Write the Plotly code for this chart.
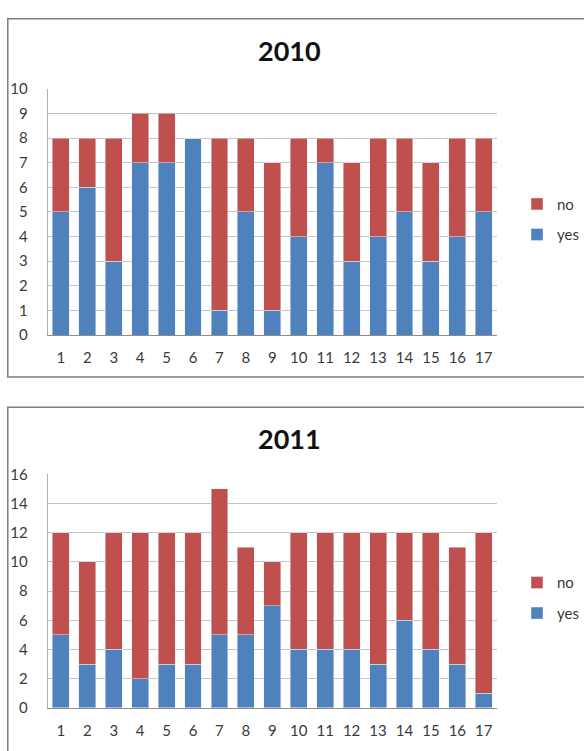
import plotly.graph_objects as go

# Survey answers per participant, two years
participants = [str(i) for i in range(1, 18)]

yes_2010 = [5, 6, 3, 7, 7, 8, 1, 5, 1, 4, 7, 3, 4, 5, 3, 4, 5]
no_2010 = [3, 2, 5, 2, 2, 0, 7, 3, 6, 4, 1, 4, 4, 3, 4, 4, 3]

yes_2011 = [5, 3, 4, 2, 3, 3, 5, 5, 7, 4, 4, 4, 3, 6, 4, 3, 1]
no_2011 = [7, 7, 8, 10, 9, 9, 10, 6, 3, 8, 8, 8, 9, 6, 8, 8, 11]

BLUE = "#4F81BD"
RED = "#C0504D"
FONT = "Lato"
W, H = 584, 751


def py(px):
    """Convert a pixel row (from top) to paper y."""
    return 1 - px / H


def pxx(px):
    return px / W


fig = go.Figure()

# 2010 chart (axes x, y) with legend; "no" listed first in the legend
fig.add_trace(go.Bar(x=participants, y=yes_2010, name="yes", marker_color=BLUE,
                     xaxis="x", yaxis="y", legend="legend", legendgroup="a",
                     legendrank=2))
fig.add_trace(go.Bar(x=participants, y=no_2010, name="no", marker_color=RED,
                     xaxis="x", yaxis="y", legend="legend", legendgroup="b",
                     legendrank=1))

# 2011 chart (axes x2, y2) with legend2
fig.add_trace(go.Bar(x=participants, y=yes_2011, name="yes", marker_color=BLUE,
                     xaxis="x2", yaxis="y2", legend="legend2", legendgroup="c",
                     legendrank=2))
fig.add_trace(go.Bar(x=participants, y=no_2011, name="no", marker_color=RED,
                     xaxis="x2", yaxis="y2", legend="legend2", legendgroup="d",
                     legendrank=1))

grid = "#c4c4c4"
axline = "#8c8c8c"
tickfont = dict(family=FONT, size=15, color="#3a3a3a")

xdom = [pxx(49), pxx(511)]

xcommon = dict(domain=xdom, type="category", showline=True, linecolor=axline,
               linewidth=1, showgrid=False, ticks="", tickfont=tickfont,
               ticklabelstandoff=9, fixedrange=True)
ycommon = dict(showline=True, linecolor="#b0b0b0", linewidth=1, showgrid=True,
               gridcolor=grid, gridwidth=1, ticks="", tickfont=tickfont,
               ticklabelstandoff=16, zeroline=False, fixedrange=True)

legend_common = dict(font=dict(family=FONT, size=15, color="#3a3a3a"),
                     traceorder="grouped", tracegroupgap=8,
                     bgcolor="rgba(0,0,0,0)", itemclick=False,
                     xanchor="left", yanchor="top")

fig.update_layout(
    width=W, height=H,
    margin=dict(l=0, r=0, t=0, b=0),
    paper_bgcolor="white", plot_bgcolor="white",
    barmode="stack", bargap=0.36,
    xaxis=dict(**xcommon, anchor="y"),
    yaxis=dict(**ycommon, domain=[py(333), py(80.7)], range=[0, 10], dtick=1,
               anchor="x"),
    xaxis2=dict(**xcommon, anchor="y2"),
    yaxis2=dict(**ycommon, domain=[py(715), py(475.7)], range=[0, 16], dtick=2,
                anchor="x2"),
    legend=dict(**legend_common, x=pxx(532), y=py(182)),
    legend2=dict(**legend_common, x=pxx(532), y=py(570)),
    shapes=[
        dict(type="rect", xref="paper", yref="paper",
             x0=pxx(8), x1=1.05, y0=py(376), y1=py(9),
             line=dict(color="#7f7f7f", width=1.5), layer="below"),
        dict(type="rect", xref="paper", yref="paper",
             x0=pxx(8), x1=1.05, y0=-0.05, y1=py(407),
             line=dict(color="#7f7f7f", width=1.5), layer="below"),
    ],
    annotations=[
        dict(text="<b>2010</b>", xref="paper", yref="paper", x=pxx(298), y=py(42),
             xanchor="center", yanchor="middle", showarrow=False,
             font=dict(family=FONT, size=27, color="#111111")),
        dict(text="<b>2011</b>", xref="paper", yref="paper", x=pxx(298), y=py(439),
             xanchor="center", yanchor="middle", showarrow=False,
             font=dict(family=FONT, size=27, color="#111111")),
    ],
)

fig.write_html("out.html")
